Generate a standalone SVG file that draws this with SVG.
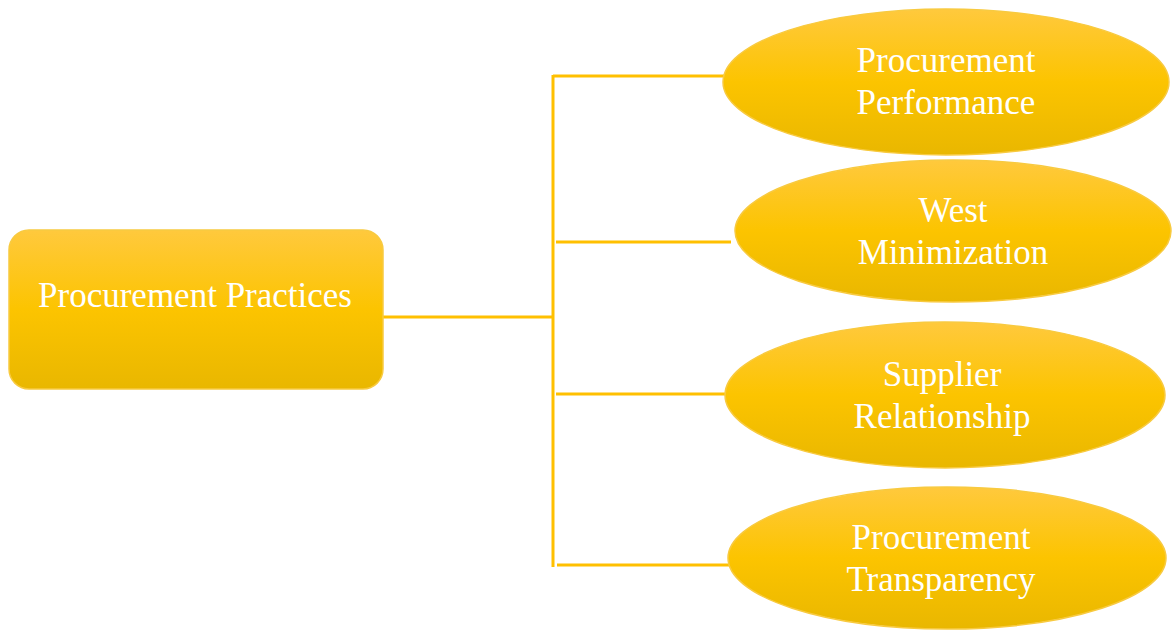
<svg xmlns="http://www.w3.org/2000/svg" width="1175" height="630" viewBox="0 0 1175 630">
  <defs>
    <linearGradient id="g" x1="0" y1="0" x2="0" y2="1">
      <stop offset="0" stop-color="#FFC93D"/>
      <stop offset="0.5" stop-color="#FCC400"/>
      <stop offset="1" stop-color="#E9B700"/>
    </linearGradient>
    <style>
      .shape { fill: url(#g); stroke: #F8CA40; stroke-width: 1.5; }
      .lbl { font-family: "Liberation Serif", "Times New Roman", serif; font-size: 35px; fill: #FFFFFF; text-anchor: middle; }
      .conn { stroke: #FFC000; stroke-width: 3; fill: none; }
    </style>
  </defs>
  <rect width="1175" height="630" fill="#FFFFFF"/>
  <g id="connectors">
    <line class="conn" x1="383" y1="317" x2="553" y2="317"/>
    <line class="conn" x1="553" y1="75" x2="553" y2="567"/>
    <line class="conn" x1="553" y1="76" x2="725" y2="76"/>
    <line class="conn" x1="556" y1="242" x2="731" y2="242"/>
    <line class="conn" x1="556" y1="394" x2="727" y2="394"/>
    <line class="conn" x1="557" y1="565" x2="729" y2="565"/>
  </g>
  <g id="node-practices">
    <rect class="shape" x="9" y="230" width="374" height="159" rx="20" ry="20"/>
    <text class="lbl" x="195" y="307">Procurement Practices</text>
  </g>
  <g id="node-performance">
    <ellipse class="shape" cx="946" cy="82" rx="223" ry="73"/>
    <text class="lbl" x="946" y="72">Procurement</text>
    <text class="lbl" x="946" y="114">Performance</text>
  </g>
  <g id="node-west">
    <ellipse class="shape" cx="953" cy="231" rx="218" ry="71"/>
    <text class="lbl" x="953" y="222">West</text>
    <text class="lbl" x="953" y="264">Minimization</text>
  </g>
  <g id="node-supplier">
    <ellipse class="shape" cx="945" cy="395" rx="220" ry="73"/>
    <text class="lbl" x="942" y="386">Supplier</text>
    <text class="lbl" x="942" y="428">Relationship</text>
  </g>
  <g id="node-transparency">
    <ellipse class="shape" cx="947" cy="558" rx="219" ry="71"/>
    <text class="lbl" x="941" y="549">Procurement</text>
    <text class="lbl" x="941" y="591">Transparency</text>
  </g>
</svg>
